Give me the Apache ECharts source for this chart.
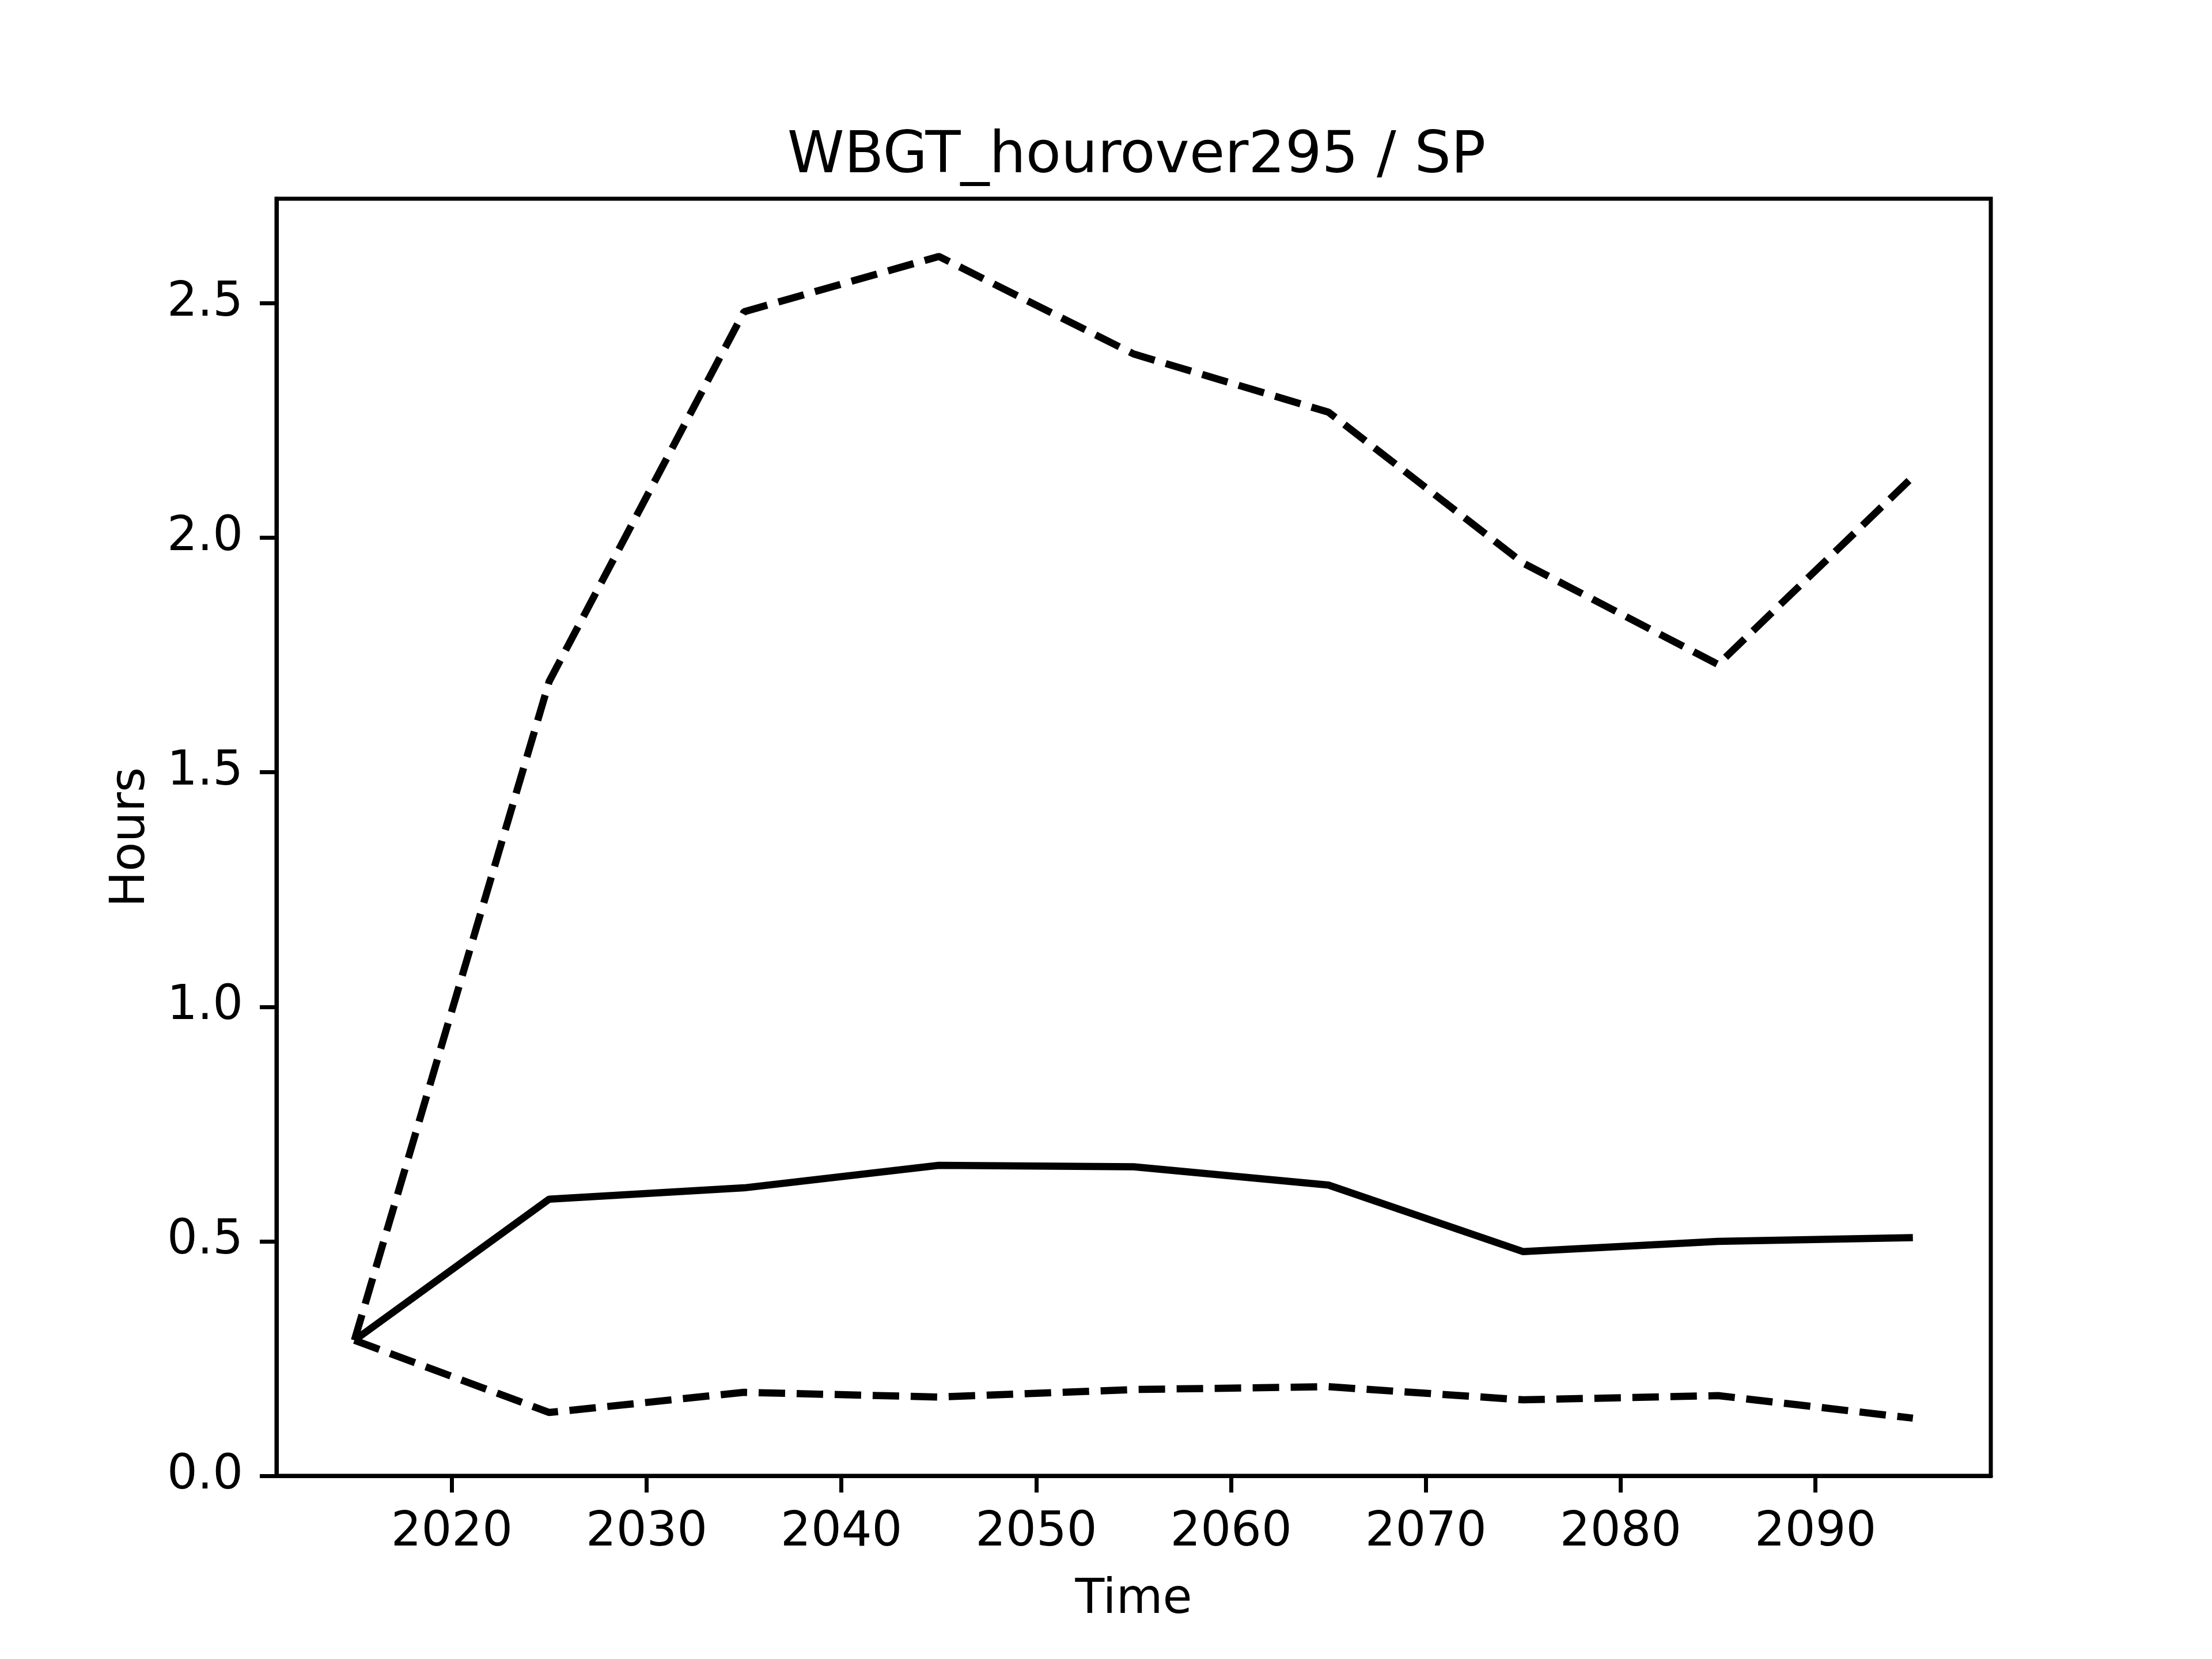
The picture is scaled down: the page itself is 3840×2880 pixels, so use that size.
<!DOCTYPE html>
<html>
<head>
<meta charset="utf-8">
<script src="https://cdn.jsdelivr.net/npm/echarts@6/dist/echarts.min.js"></script>
<style>html,body{margin:0;padding:0;background:#fff}#c{width:3840px;height:2880px}</style>
</head>
<body>
<div id="c"></div>
<script>
const years = [2015, 2025, 2035, 2045, 2055, 2065, 2075, 2085, 2095];
const meanValues = [0.289, 0.590, 0.614, 0.662, 0.659, 0.620, 0.478, 0.500, 0.508];
const upperValues = [0.289, 1.694, 2.482, 2.600, 2.392, 2.268, 1.946, 1.730, 2.130];
const lowerValues = [0.289, 0.135, 0.178, 0.168, 0.184, 0.190, 0.162, 0.171, 0.123];
const xTicks = [2020, 2030, 2040, 2050, 2060, 2070, 2080, 2090];
const yTicks = [0, 0.5, 1.0, 1.5, 2.0, 2.5];

const pairs = v => years.map((y, i) => [y, v[i]]);
const font = 'DejaVu Sans';
const lw = 12.5;
const dash = [46, 20];

const chart = echarts.init(document.getElementById('c'), null, {renderer: 'canvas'});
chart.setOption({
  animation: false,
  backgroundColor: '#ffffff',
  title: {
    text: 'WBGT_hourover295 / SP',
    left: 1968,
    textAlign: 'center',
    top: 218,
    textStyle: {fontFamily: font, fontSize: 100, fontWeight: 'normal', color: '#000'}
  },
  grid: {
    left: 480, right: 384, top: 345, bottom: 318,
    show: true, borderColor: '#000', borderWidth: 7, backgroundColor: 'transparent'
  },
  xAxis: {
    type: 'value', min: 2011, max: 2099,
    name: 'Time', nameLocation: 'middle', nameGap: 175,
    nameTextStyle: {fontFamily: font, fontSize: 83, color: '#000'},
    axisLine: {show: true, lineStyle: {color: '#000', width: 7}},
    axisTick: {show: true, inside: false, length: 29, lineStyle: {color: '#000', width: 7}, customValues: xTicks},
    axisLabel: {show: true, margin: 58, fontFamily: font, fontSize: 83, color: '#000', customValues: xTicks, formatter: v => String(v)},
    splitLine: {show: false}
  },
  yAxis: {
    type: 'value', min: 0, max: 2.723,
    name: 'Hours', nameLocation: 'middle', nameGap: 210,
    nameTextStyle: {fontFamily: font, fontSize: 83, color: '#000'},
    axisLine: {show: true, lineStyle: {color: '#000', width: 7}},
    axisTick: {show: true, inside: false, length: 29, lineStyle: {color: '#000', width: 7}, customValues: yTicks},
    axisLabel: {show: true, margin: 58, fontFamily: font, fontSize: 83, color: '#000', customValues: yTicks, formatter: v => v.toFixed(1)},
    splitLine: {show: false}
  },
  series: [
    {type: 'line', data: pairs(upperValues), showSymbol: false, lineStyle: {color: '#000', width: lw, type: dash}, z: 3},
    {type: 'line', data: pairs(meanValues), showSymbol: false, lineStyle: {color: '#000', width: lw, type: 'solid'}, z: 3},
    {type: 'line', data: pairs(lowerValues), showSymbol: false, lineStyle: {color: '#000', width: lw, type: dash}, z: 3}
  ]
});
</script>
</body>
</html>
